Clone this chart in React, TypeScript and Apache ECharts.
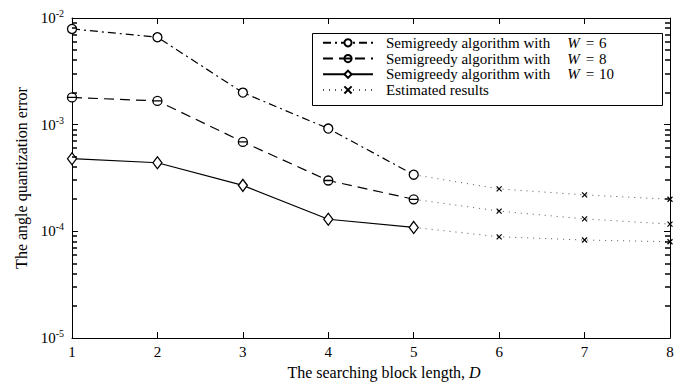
import React, { useEffect, useRef } from 'react';
import * as echarts from 'echarts';

const FONT = '"Liberation Serif", "Times New Roman", serif';

// Measured block lengths D = 1..5
const xValues = [1, 2, 3, 4, 5];
const w6 = [7.9e-3, 6.6e-3, 2.0e-3, 9.2e-4, 3.4e-4];
const w8 = [1.8e-3, 1.67e-3, 6.9e-4, 3.0e-4, 2.0e-4];
const w10 = [4.8e-4, 4.4e-4, 2.7e-4, 1.3e-4, 1.09e-4];

// Estimated results D = 5..8
const estX = [5, 6, 7, 8];
const est6 = [3.4e-4, 2.5e-4, 2.2e-4, 2.0e-4];
const est8 = [2.0e-4, 1.55e-4, 1.31e-4, 1.17e-4];
const est10 = [1.09e-4, 8.9e-5, 8.3e-5, 8.0e-5];

const xTicks = [1, 2, 3, 4, 5, 6, 7, 8];
const minorMult = [2, 3, 4, 5, 6, 7, 8, 9];
const decades = [1e-5, 1e-4, 1e-3];

const legendNames = ['W6', 'W8', 'W10', 'Estimated results'];
const legendLabels: Record<string, string> = {
  W6: 'Semigreedy algorithm with{i|W}{e|=}6',
  W8: 'Semigreedy algorithm with{i|W}{e|=}8',
  W10: 'Semigreedy algorithm with{i|W}{e|=}10',
  'Estimated results': 'Estimated results',
};

const circleBar = 'path://M0,5A5,5 0 1,1 10,5A5,5 0 1,1 0,5ZM0,5L10,5';
const xSym = 'path://M0,0L10,10M10,0L0,10';

const tick = { show: true, inside: true, length: 6, lineStyle: { color: '#000', width: 1 } };

export default function App() {
  const ref = useRef<HTMLDivElement>(null);
  useEffect(() => {
    const chart = echarts.init(ref.current!, null, { renderer: 'svg' });
    const minorTicks = decades.flatMap((d) => minorMult.map((m) => m * d));
    const lineBase = (name: string, xs: number[], ys: number[], dash: any, symbol: string, size: any) => ({
      type: 'line',
      name,
      data: xs.map((x, i) => [x, ys[i]]),
      symbol,
      symbolSize: size,
      showSymbol: true,
      lineStyle: { color: '#000', width: 1.2, type: dash },
      itemStyle: { color: '#fff', borderColor: '#000', borderWidth: 1.3 },
      z: 3,
    });
    const est = (ys: number[]) => ({
      type: 'line',
      name: 'Estimated results',
      data: estX.map((x, i) => (i === 0 ? { value: [x, ys[i]], symbol: 'none' } : [x, ys[i]])),
      symbol: xSym,
      symbolSize: 5,
      lineStyle: { color: '#555', width: 1, type: [1, 5] },
      itemStyle: { color: '#000', borderColor: '#000', borderWidth: 1.2 },
      z: 2,
    });
    const richW = {
      i: { fontFamily: FONT, fontSize: 15, fontStyle: 'italic', color: '#000', padding: [0, 0, 0, 17] },
      e: { fontFamily: FONT, fontSize: 15, color: '#000', padding: [0, 5, 0, 6] },
    };
    const legendBox = {
      id: 'legendBox',
      type: 'rect',
      left: 312,
      top: 33,
      z: 5,
      shape: { width: 350, height: 72 },
      style: { fill: '#fff', stroke: '#000', lineWidth: 1 },
    };
    const option: any = {
      animation: false,
      backgroundColor: '#fff',
      textStyle: { fontFamily: FONT },
      grid: { left: 72, right: 15, top: 18, bottom: 42 },
      xAxis: [
        {
          type: 'value',
          min: 1,
          max: 8,
          interval: 1,
          name: 'The searching block length, {i|D}',
          nameLocation: 'middle',
          nameGap: 24,
          nameTextStyle: {
            fontFamily: FONT,
            fontSize: 16,
            color: '#000',
            padding: [0, 0, 0, 26],
            rich: { i: { fontFamily: FONT, fontSize: 16, fontStyle: 'italic', color: '#000' } },
          },
          axisLine: { show: true, lineStyle: { color: '#000', width: 1 } },
          axisTick: tick,
          axisLabel: {
            fontFamily: FONT,
            fontSize: 15,
            color: '#000',
            margin: 6,
            formatter: (v: number) => (xTicks.includes(v) ? String(v) : ''),
          },
          splitLine: { show: false },
        },
        {
          type: 'value',
          position: 'top',
          min: 1,
          max: 8,
          interval: 1,
          axisLine: { show: true, lineStyle: { color: '#000', width: 1 } },
          axisTick: tick,
          axisLabel: { show: false },
          splitLine: { show: false },
        },
      ],
      yAxis: [
        {
          type: 'log',
          logBase: 10,
          min: 1e-5,
          max: 1e-2,
          name: 'The angle quantization error',
          nameLocation: 'middle',
          nameRotate: 90,
          nameGap: 43,
          nameTextStyle: { fontFamily: FONT, fontSize: 16, color: '#000' },
          axisLine: { show: true, lineStyle: { color: '#000', width: 1 } },
          axisTick: tick,
          axisLabel: {
            color: '#000',
            margin: 8,
            formatter: (v: number) => `{b|10}{s|${Math.round(Math.log10(v))}}`,
            rich: {
              b: { fontFamily: FONT, fontSize: 15, color: '#000' },
              s: { fontFamily: FONT, fontSize: 10, color: '#000', padding: [0, 0, 9, 0] },
            },
          },
          splitLine: { show: false },
        },
        {
          type: 'log',
          logBase: 10,
          min: 1e-5,
          max: 1e-2,
          position: 'right',
          axisLine: { show: true, lineStyle: { color: '#000', width: 1 } },
          axisTick: tick,
          axisLabel: { show: false },
          splitLine: { show: false },
        },
      ],
      legend: {
        orient: 'vertical',
        left: 322,
        top: 35,
        data: legendNames,
        itemWidth: 50,
        itemHeight: 9,
        itemGap: 0,
        padding: 0,
        formatter: (n: string) => legendLabels[n],
        textStyle: {
          fontFamily: FONT,
          fontSize: 15,
          color: '#000',
          lineHeight: 15.7,
          padding: [0, 0, 0, 8],
          rich: richW,
        },
        z: 6,
      },
      graphic: [legendBox],
      series: [
        lineBase('W6', xValues, w6, [8, 4, 2, 4], 'circle', 9),
        lineBase('W8', xValues, w8, [10, 6], circleBar, 9),
        lineBase('W10', xValues, w10, 'solid', 'diamond', [9, 12]),
        est(est6),
        est(est8),
        est(est10),
      ],
    };
    chart.setOption(option);

    // Minor log ticks, positioned through the chart's own scales
    const tickEls: any[] = [];
    minorTicks.forEach((v, i) => {
      const l = chart.convertToPixel({ xAxisIndex: 0, yAxisIndex: 0 }, [1, v]) as number[];
      const r = chart.convertToPixel({ xAxisIndex: 0, yAxisIndex: 0 }, [8, v]) as number[];
      if (!l || !r || !isFinite(l[1])) return;
      const yl = Math.round(l[1]);
      tickEls.push({
        id: 'ml' + i,
        type: 'rect',
        z: 7,
        shape: { x: l[0], y: yl - 0.75, width: 5, height: 1.5 },
        style: { fill: '#000' },
      });
      tickEls.push({
        id: 'mr' + i,
        type: 'rect',
        z: 7,
        shape: { x: r[0] - 5, y: yl - 0.75, width: 5, height: 1.5 },
        style: { fill: '#000' },
      });
    });
    chart.setOption({ graphic: [legendBox, ...tickEls] });
    return () => chart.dispose();
  }, []);
  return <div ref={ref} style={{ position: 'fixed', left: 0, top: 0, width: 685, height: 385 }} />;
}
